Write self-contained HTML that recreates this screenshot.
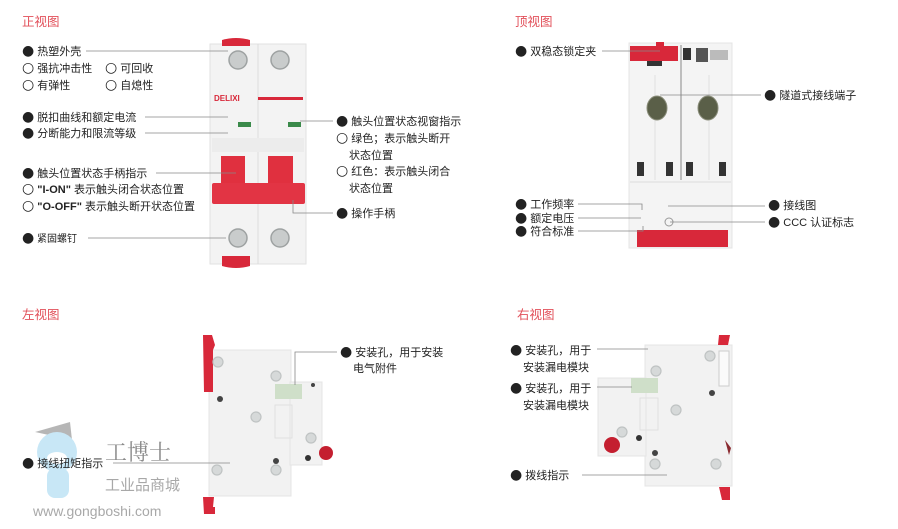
<!DOCTYPE html>
<html><head><meta charset="utf-8"><style>
html,body{margin:0;padding:0;background:#fff;width:898px;height:529px;overflow:hidden}
svg{display:block}
text{font-family:"Liberation Sans","Noto Sans CJK SC",sans-serif;font-size:11px;fill:#222}
.t{fill:#e2505a;font-size:12.5px}
.s{font-size:10px}
.b{font-size:14px;font-family:"DejaVu Sans",sans-serif}
.l{stroke:#888;stroke-width:0.8;fill:none}
.scr{fill:#c9cccc;stroke:#9ea2a2;stroke-width:1.5}
.hole{fill:#d6d9d9;stroke:#bfc3c3;stroke-width:1.2}
</style></head><body>
<svg width="898" height="529" viewBox="0 0 898 529">
<!-- ========== FRONT VIEW ========== -->
<text class="t" x="22" y="26">正视图</text>
<g>
<rect x="210" y="44" width="96" height="220" fill="#f3f3f3" stroke="#e2e2e2"/>
<line x1="258" y1="44" x2="258" y2="264" stroke="#dcdcdc"/>
<path d="M222 46 L222 40 Q236 36 250 40 L250 46 Z" fill="#d8283a"/>
<path d="M222 256 L250 256 L250 266 Q236 270 222 266 Z" fill="#d8283a"/>
<circle class="scr" cx="238" cy="60" r="9"/><circle class="scr" cx="280" cy="60" r="9"/>
<circle class="scr" cx="238" cy="238" r="9"/><circle class="scr" cx="280" cy="238" r="9"/>
<text x="214" y="101" style="font-size:8px;font-weight:bold;fill:#d8283a">DELIXI</text>
<rect x="258" y="97" width="45" height="3" fill="#d8283a"/>
<rect x="238" y="122" width="13" height="5" fill="#3a8a4a"/>
<rect x="288" y="122" width="13" height="5" fill="#3a8a4a"/>
<rect x="212" y="138" width="92" height="14" fill="#ececec"/>
<rect x="221" y="156" width="24" height="30" fill="#e0303f"/>
<rect x="268" y="156" width="25" height="30" fill="#e0303f"/>
<rect x="212" y="183" width="93" height="21" rx="2" fill="#e23444"/>
</g>
<text x="22" y="55"><tspan class="b">●</tspan> 热塑外壳</text><path class="l" d="M86 51 H228"/>
<text x="22" y="72"><tspan class="b">○</tspan> 强抗冲击性</text><text x="105" y="72"><tspan class="b">○</tspan> 可回收</text>
<text x="22" y="89"><tspan class="b">○</tspan> 有弹性</text><text x="105" y="89"><tspan class="b">○</tspan> 自熄性</text>
<text x="22" y="121"><tspan class="b">●</tspan> 脱扣曲线和额定电流</text><path class="l" d="M145 117 H228"/>
<text x="22" y="137"><tspan class="b">●</tspan> 分断能力和限流等级</text><path class="l" d="M145 133 H228"/>
<text x="22" y="177"><tspan class="b">●</tspan> 触头位置状态手柄指示</text><path class="l" d="M156 173 H236"/>
<text x="22" y="193"><tspan class="b">○</tspan> <tspan font-weight="bold">"I-ON"</tspan> 表示触头闭合状态位置</text>
<text x="22" y="210"><tspan class="b">○</tspan> <tspan font-weight="bold">"O-OFF"</tspan> 表示触头断开状态位置</text>
<text class="s" x="22" y="242"><tspan class="b">●</tspan> 紧固螺钉</text><path class="l" d="M88 238 H226"/>
<text x="336" y="125"><tspan class="b">●</tspan> 触头位置状态视窗指示</text><path class="l" d="M300 121 H333"/>
<text x="336" y="142"><tspan class="b">○</tspan> 绿色；表示触头断开</text>
<text x="349" y="159">状态位置</text>
<text x="336" y="175"><tspan class="b">○</tspan> 红色：表示触头闭合</text>
<text x="349" y="192">状态位置</text>
<text x="336" y="217"><tspan class="b">●</tspan> 操作手柄</text><path class="l" d="M293 200 V213 H333"/>

<!-- ========== TOP VIEW ========== -->
<text class="t" x="515" y="26">顶视图</text>
<g>
<rect x="629" y="43" width="103" height="205" fill="#f4f4f4" stroke="#e4e4e4"/>
<line x1="681" y1="45" x2="681" y2="180" stroke="#888"/>
<line x1="655" y1="75" x2="655" y2="180" stroke="#e0e0e0"/>
<line x1="709" y1="75" x2="709" y2="180" stroke="#e0e0e0"/>
<rect x="630" y="46" width="48" height="15" fill="#d8283a"/>
<rect x="656" y="42" width="8" height="6" fill="#d8283a"/>
<rect x="647" y="61" width="15" height="5" fill="#333"/>
<rect x="683" y="48" width="8" height="12" fill="#333"/>
<rect x="696" y="48" width="12" height="14" fill="#555"/>
<rect x="710" y="50" width="18" height="10" fill="#bbb"/>
<ellipse cx="657" cy="108" rx="10" ry="12" fill="#5a5f48" stroke="#8a8d7a"/>
<ellipse cx="708" cy="108" rx="10" ry="12" fill="#5a5f48" stroke="#8a8d7a"/>
<rect x="637" y="162" width="7" height="14" fill="#333"/>
<rect x="666" y="162" width="7" height="14" fill="#333"/>
<rect x="686" y="162" width="7" height="14" fill="#333"/>
<rect x="719" y="162" width="7" height="14" fill="#333"/>
<line x1="630" y1="182" x2="731" y2="182" stroke="#ddd"/>
<circle cx="669" cy="222" r="4" fill="none" stroke="#999"/>
<rect x="637" y="230" width="91" height="17" fill="#d8283a"/>
</g>
<text x="515" y="55"><tspan class="b">●</tspan> 双稳态锁定夹</text><path class="l" d="M602 51 H660"/>
<text x="764" y="99"><tspan class="b">●</tspan> 隧道式接线端子</text><path class="l" d="M660 95 H761"/>
<text x="515" y="208"><tspan class="b">●</tspan> 工作频率</text><path class="l" d="M578 204 H642 V210"/>
<text x="515" y="222"><tspan class="b">●</tspan> 额定电压</text><path class="l" d="M578 218 H641"/>
<text x="515" y="235"><tspan class="b">●</tspan> 符合标准</text><path class="l" d="M578 231 H643 V226"/>
<text x="768" y="209"><tspan class="b">●</tspan> 接线图</text><path class="l" d="M668 206 H765"/>
<text x="768" y="226"><tspan class="b">●</tspan> CCC 认证标志</text><path class="l" d="M670 222 H765"/>

<!-- ========== LEFT VIEW ========== -->
<text class="t" x="22" y="319">左视图</text>
<g>
<rect x="209" y="350" width="82" height="146" fill="#f2f2f2" stroke="#e4e4e4"/>
<rect x="290" y="382" width="32" height="83" fill="#f2f2f2" stroke="#e4e4e4"/>
<rect x="275" y="384" width="27" height="15" fill="#cfdfc9"/>
<rect x="275" y="405" width="17" height="33" fill="none" stroke="#e0e0e0"/>
<path d="M203 335 H212 L215 345 L213 350 V392 H204 Z" fill="#d8283a"/>
<path d="M203 497 H214 L213 507 H215 V514 H204 Z" fill="#d8283a"/>
<circle class="hole" cx="218" cy="362" r="5"/><circle class="hole" cx="276" cy="376" r="5"/>
<circle class="hole" cx="256" cy="417" r="5"/><circle class="hole" cx="311" cy="438" r="5"/>
<circle class="hole" cx="217" cy="470" r="5"/><circle class="hole" cx="276" cy="470" r="5"/>
<circle cx="220" cy="399" r="3" fill="#444"/><circle cx="276" cy="461" r="3" fill="#444"/>
<circle cx="308" cy="458" r="3" fill="#333"/><circle cx="313" cy="385" r="2" fill="#444"/>
<circle cx="326" cy="453" r="7" fill="#c41f30"/>
</g>
<text x="340" y="356"><tspan class="b">●</tspan> 安装孔，用于安装</text>
<text x="353" y="372">电气附件</text><path class="l" d="M295 385 V352 H337"/>
<!-- watermark -->
<g opacity="0.85">
<path d="M35 432 L70 422 L72 440 Z" fill="#aaa"/>
<circle cx="57" cy="452" r="20" fill="#bfe3f5"/>
<rect x="47" y="468" width="22" height="30" rx="8" fill="#bfe3f5"/>
<ellipse cx="57" cy="458" rx="10" ry="6" fill="#fff"/>
<text x="105" y="460" style="font-size:22px;fill:#777;font-family:'Noto Serif CJK SC',serif">工博士</text>
<text x="105" y="490" style="font-size:15px;fill:#999">工业品商城</text>
<text x="33" y="516" style="font-size:14px;fill:#999">www.gongboshi.com</text>
</g>
<text x="22" y="467"><tspan class="b">●</tspan> 接线扭矩指示</text><path class="l" d="M113 463 H230"/>

<!-- ========== RIGHT VIEW ========== -->
<text class="t" x="517" y="319">右视图</text>
<g>
<rect x="645" y="345" width="87" height="141" fill="#f2f2f2" stroke="#e4e4e4"/>
<rect x="598" y="378" width="48" height="78" fill="#f2f2f2" stroke="#e4e4e4"/>
<rect x="631" y="378" width="27" height="15" fill="#cfdfc9"/>
<rect x="640" y="398" width="18" height="32" fill="none" stroke="#e0e0e0"/>
<rect x="719" y="351" width="10" height="35" fill="#fafafa" stroke="#ccc"/>
<path d="M719 335 H730 L728 345 H718 Z" fill="#d8283a"/>
<path d="M719 487 H730 V500 H722 Z" fill="#d8283a"/>
<circle class="hole" cx="710" cy="356" r="5"/><circle class="hole" cx="656" cy="371" r="5"/>
<circle class="hole" cx="676" cy="410" r="5"/><circle class="hole" cx="622" cy="432" r="5"/>
<circle class="hole" cx="655" cy="464" r="5"/><circle class="hole" cx="716" cy="464" r="5"/>
<circle cx="712" cy="393" r="3" fill="#444"/><circle cx="639" cy="438" r="3" fill="#333"/>
<circle cx="655" cy="453" r="3" fill="#444"/>
<path d="M725 440 L731 448 L729 455 Z" fill="#8a2a30"/>
<circle cx="612" cy="445" r="8" fill="#c41f30"/>
</g>
<text x="510" y="354"><tspan class="b">●</tspan> 安装孔，用于</text>
<text x="523" y="371">安装漏电模块</text><path class="l" d="M597 349 H648"/>
<text x="510" y="392"><tspan class="b">●</tspan> 安装孔，用于</text>
<text x="523" y="409">安装漏电模块</text><path class="l" d="M597 387 H632"/>
<text x="510" y="479"><tspan class="b">●</tspan> 拨线指示</text><path class="l" d="M582 475 H667"/>
</svg>
</body></html>
